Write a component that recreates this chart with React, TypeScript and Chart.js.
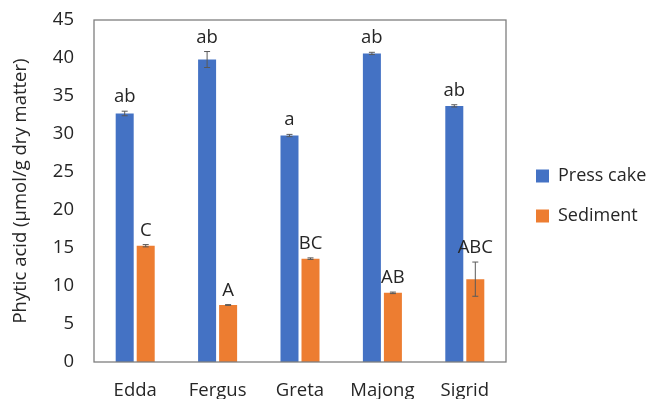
import React, { useEffect, useRef } from "react";
import { Chart, registerables } from "chart.js";

Chart.register(...registerables);

const categories = ["Edda", "Fergus", "Greta", "Majong", "Sigrid"];
const pressCake = [32.7, 39.8, 29.8, 40.6, 33.7];
const pressCakeErr = [0.3, 1.05, 0.15, 0.15, 0.15];
const pressCakeLetters = ["ab", "ab", "a", "ab", "ab"];
const sediment = [15.3, 7.5, 13.6, 9.1, 10.9];
const sedimentErr = [0.15, 0.05, 0.1, 0.1, 2.25];
const sedimentLetters = ["C", "A", "BC", "AB", "ABC"];
const yTicks = [0, 5, 10, 15, 20, 25, 30, 35, 40, 45];

const FONT = "'Open Sans', sans-serif";
const FS = 18.5;
const TEXT = "#262626";

const errLetters = {
  id: "errLetters",
  afterDatasetsDraw(chart: any) {
    const ctx = chart.ctx;
    const y = chart.scales.y;
    const errs = [pressCakeErr, sedimentErr];
    const letters = [pressCakeLetters, sedimentLetters];
    chart.data.datasets.forEach((ds: any, di: number) => {
      const meta = chart.getDatasetMeta(di);
      meta.data.forEach((bar: any, i: number) => {
        const v = ds.data[i];
        const e = errs[di][i];
        const x = bar.x;
        const top = y.getPixelForValue(v + e);
        const bot = y.getPixelForValue(v - e);
        ctx.save();
        ctx.strokeStyle = "#595959";
        ctx.lineWidth = 1;
        ctx.beginPath();
        ctx.moveTo(x, top);
        ctx.lineTo(x, bot);
        ctx.moveTo(x - 3, top);
        ctx.lineTo(x + 3, top);
        ctx.moveTo(x - 3, bot);
        ctx.lineTo(x + 3, bot);
        ctx.stroke();
        ctx.fillStyle = TEXT;
        ctx.font = `${FS}px ${FONT}`;
        ctx.textAlign = "center";
        ctx.textBaseline = "alphabetic";
        ctx.fillText(letters[di][i], x, top - 9);
        ctx.restore();
      });
    });
  },
};

const frame = {
  id: "frame",
  afterDatasetsDraw(chart: any) {
    const { left, right, top, bottom } = chart.chartArea;
    const ctx = chart.ctx;
    ctx.save();
    ctx.strokeStyle = "#7f7f7f";
    ctx.lineWidth = 1.3;
    ctx.strokeRect(left, top, right - left, bottom - top);
    ctx.restore();
  },
};

const legendTweak = {
  id: "legendTweak",
  afterInit(chart: any) {
    const lg = chart.legend;
    if (!lg) return;
    const orig = lg.fit.bind(lg);
    lg.fit = () => {
      orig();
      lg.width = 142;
    };
  },
  afterLayout(chart: any) {
    const lg = chart.legend;
    if (!lg) return;
    lg.left += 8;
    lg.right += 8;
    lg.top += 5;
    lg.bottom += 5;
  },
};

export default function App() {
  const ref = useRef<HTMLCanvasElement>(null);
  useEffect(() => {
    document.body.style.margin = "0";
    const chart = new Chart(ref.current!, {
      type: "bar",
      data: {
        labels: categories,
        datasets: [
          {
            label: "Press cake",
            data: pressCake,
            backgroundColor: "#4472C4",
            categoryPercentage: 0.51,
            barPercentage: 0.857,
          },
          {
            label: "Sediment",
            data: sediment,
            backgroundColor: "#ED7D31",
            categoryPercentage: 0.51,
            barPercentage: 0.857,
          },
        ],
      },
      options: {
        responsive: false,
        animation: false,
        layout: { padding: { top: 20, left: 10, right: 0, bottom: 0 } },
        plugins: {
          tooltip: { enabled: false },
          legend: {
            position: "right",
            fullSize: false,
            labels: {
              boxWidth: 13,
              boxHeight: 13,
              padding: 22,
              color: TEXT,
              font: { family: FONT, size: 18 },
            },
          },
        },
        scales: {
          x: {
            grid: { display: false, drawTicks: false },
            border: { display: false },
            ticks: { color: TEXT, font: { family: FONT, size: FS }, padding: 17.5 },
            afterFit: (s: any) => {
              s.height = 37;
              s.paddingLeft = 0;
              s.paddingRight = 0;
            },
          },
          y: {
            min: 0,
            max: 45,
            afterBuildTicks: (s: any) => {
              s.ticks = yTicks.map((v) => ({ value: v }));
            },
            grid: { display: false, drawTicks: false },
            border: { display: false },
            ticks: { color: TEXT, font: { family: FONT, size: FS }, padding: 20 },
            title: {
              display: true,
              text: "Phytic acid (µmol/g dry matter)",
              color: TEXT,
              font: { family: FONT, size: FS },
              padding: { top: 0, bottom: 4 },
            },
            afterFit: (s: any) => {
              s.width = 84;
              s.paddingTop = 0;
              s.paddingBottom = 0;
            },
          },
        },
      },
      plugins: [frame, errLetters, legendTweak],
    });
    return () => chart.destroy();
  }, []);
  return (
    <div style={{ width: 648, height: 399 }}>
      <canvas ref={ref} width={648} height={399} />
    </div>
  );
}
